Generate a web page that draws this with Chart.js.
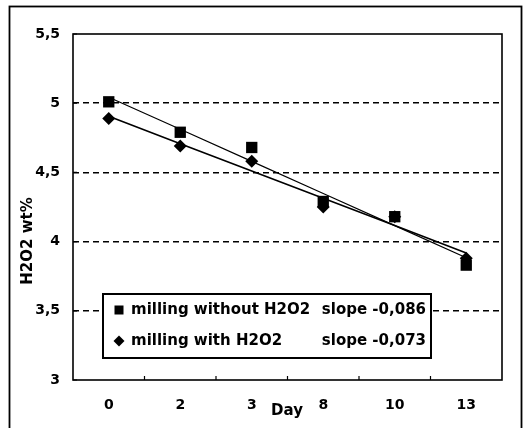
<!DOCTYPE html>
<html>
<head>
<meta charset="utf-8">
<script src="https://cdn.jsdelivr.net/npm/chart.js@4.4.1/dist/chart.umd.min.js"></script>
<style>
	html, body { margin: 0; padding: 0; background: #fff; }
</style>
</head>
<body>
<canvas id="h2o2-chart" width="525" height="428"></canvas>
<script>
	const days = ['0', '2', '3', '8', '10', '13'];
	const withoutH2O2 = [5.01, 4.79, 4.68, 4.29, 4.18, 3.83];
	const withH2O2 = [4.89, 4.69, 4.58, 4.25, 4.18, 3.88];
	const seriesNames = ['milling without H2O2', 'milling with H2O2'];
	const slopeLabels = ['slope -0,086', 'slope -0,073'];
	const yTicks = [3, 3.5, 4, 4.5, 5, 5.5];
	const yTitle = 'H2O2 wt%';
	const xTitle = 'Day';

	const FONT = '"DejaVu Sans", sans-serif';

	// least squares line over the category index, like the spreadsheet trendline
	function trend(values) {
		const n = values.length;
		const mx = (n - 1) / 2;
		const my = values.reduce((a, b) => a + b, 0) / n;
		let sxy = 0, sxx = 0;
		values.forEach((v, i) => {
			sxy += (i - mx) * (v - my);
			sxx += (i - mx) * (i - mx);
		});
		const b = sxy / sxx;
		return values.map((v, i) => my + b * (i - mx));
	}

	const framePlugin = {
		id: 'frame',
		afterDraw(chart) {
			const { ctx, chartArea: a, scales: { x, y } } = chart;
			ctx.save();
			ctx.strokeStyle = '#000';

			// outer frame
			ctx.lineWidth = 1.8;
			ctx.strokeRect(9.5, 6.5, 512, 440);

			// plot frame
			ctx.lineWidth = 1.6;
			ctx.strokeRect(a.left, a.top, a.right - a.left, a.bottom - a.top);

			// inward ticks
			ctx.lineWidth = 1.2;
			ctx.beginPath();
			for (let i = 0; i < days.length - 1; i++) {
				const px = (x.getPixelForValue(i) + x.getPixelForValue(i + 1)) / 2;
				ctx.moveTo(px, a.bottom);
				ctx.lineTo(px, a.bottom - 4);
			}
			yTicks.forEach(v => {
				const py = y.getPixelForValue(v);
				ctx.moveTo(a.left, py);
				ctx.lineTo(a.left + 4, py);
			});
			ctx.stroke();

			// axis titles
			ctx.fillStyle = '#000';
			ctx.font = 'bold 15px ' + FONT;
			ctx.textAlign = 'center';
			ctx.textBaseline = 'middle';
			ctx.fillText(xTitle, 287, 411);
			ctx.save();
			ctx.translate(28, 241);
			ctx.rotate(-Math.PI / 2);
			ctx.fillText(yTitle, 0, 0);
			ctx.restore();

			// legend
			const box = { left: 103, top: 294, right: 431, bottom: 358 };
			ctx.fillStyle = '#fff';
			ctx.fillRect(box.left, box.top, box.right - box.left, box.bottom - box.top);
			ctx.lineWidth = 2;
			ctx.strokeRect(box.left, box.top, box.right - box.left, box.bottom - box.top);

			const rows = [310, 341];
			ctx.fillStyle = '#000';
			ctx.fillRect(114.5, rows[0] - 4.5, 9, 9);
			ctx.beginPath();
			ctx.moveTo(119, rows[1] - 5.5);
			ctx.lineTo(124.5, rows[1]);
			ctx.lineTo(119, rows[1] + 5.5);
			ctx.lineTo(113.5, rows[1]);
			ctx.closePath();
			ctx.fill();

			ctx.font = 'bold 15px ' + FONT;
			ctx.textBaseline = 'middle';
			rows.forEach((ry, i) => {
				ctx.textAlign = 'left';
				ctx.fillText(seriesNames[i], 131, ry);
				ctx.textAlign = 'right';
				ctx.fillText(slopeLabels[i], 426, ry);
			});
			ctx.restore();
		}
	};

	const data = {
		labels: days,
		datasets: [
			{
				label: seriesNames[0],
				data: withoutH2O2,
				showLine: false,
				pointStyle: 'rect',
				pointRadius: 8,
				pointBackgroundColor: '#000',
				pointBorderColor: '#000',
				pointBorderWidth: 0,
			},
			{
				label: seriesNames[1],
				data: withH2O2,
				showLine: false,
				pointStyle: 'rectRot',
				pointRadius: 6.5,
				pointBackgroundColor: '#000',
				pointBorderColor: '#000',
				pointBorderWidth: 0,
			},
			{
				label: 'trend without',
				data: trend(withoutH2O2),
				borderColor: '#000',
				borderWidth: 1.2,
				pointRadius: 0,
				tension: 0,
			},
			{
				label: 'trend with',
				data: trend(withH2O2),
				borderColor: '#000',
				borderWidth: 1.6,
				pointRadius: 0,
				tension: 0,
			},
		],
	};

	const config = {
		type: 'line',
		data: data,
		plugins: [framePlugin],
		options: {
			responsive: false,
			animation: false,
			layout: {
				padding: { left: 0, top: 34, right: 23, bottom: 0 },
			},
			scales: {
				x: {
					offset: true,
					afterFit: s => { s.height = 48; },
					grid: { display: false, drawTicks: false },
					border: { display: false },
					ticks: {
						color: '#000',
						font: { family: FONT, size: 14, weight: 'bold' },
						padding: 17,
						maxRotation: 0,
					},
				},
				y: {
					min: 3,
					max: 5.5,
					afterFit: s => { s.width = 73; },
					afterBuildTicks: s => { s.ticks = yTicks.map(v => ({ value: v })); },
					grid: {
						drawTicks: false,
						lineWidth: 1.6,
						color: c => (c.tick && (c.tick.value === 3 || c.tick.value === 5.5)) ? 'rgba(0,0,0,0)' : '#000',
					},
					border: { display: false, dash: [6, 4] },
					ticks: {
						color: '#000',
						font: { family: FONT, size: 14, weight: 'bold' },
						padding: 13,
						callback: v => String(v).replace('.', ','),
					},
				},
			},
			plugins: {
				legend: { display: false },
				tooltip: { enabled: false },
			},
		},
	};

	const myChart = new Chart(document.getElementById('h2o2-chart'), config);
</script>
</body>
</html>
